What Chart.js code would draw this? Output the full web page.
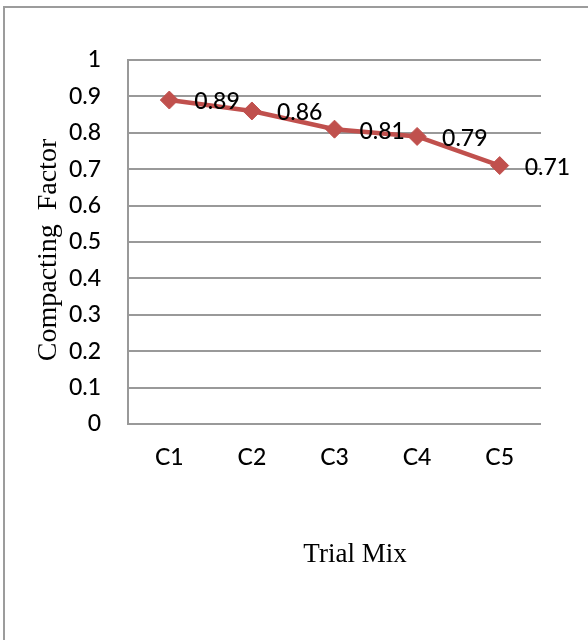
<!DOCTYPE html>
<html>
<head>
<meta charset="utf-8">
<script src="https://cdn.jsdelivr.net/npm/chart.js@4"></script>
<style>
  html, body { margin: 0; padding: 0; background: #fff; }
  #wrap { position: relative; width: 588px; height: 640px; overflow: hidden; }
  #frame { position: absolute; left: 3px; top: 6px; right: -10px; bottom: -10px;
           border-top: 2px solid #9c9c9c; border-left: 2px solid #9c9c9c; pointer-events: none; }
  canvas { position: absolute; left: 0; top: 0; }
</style>
</head>
<body>
<div id="wrap">
  <canvas id="chart" width="588" height="640"></canvas>
  <div id="frame"></div>
</div>
<script>
// Trial mixes and their measured compacting factor
const categories = ['C1', 'C2', 'C3', 'C4', 'C5'];
const compactingFactor = [0.89, 0.86, 0.81, 0.79, 0.71];
const yTitle = 'Compacting  Factor';
const xTitle = 'Trial Mix';

const RED = '#C0504D';
const GRID = '#999999';
const SANS = 'Lato, "Open Sans", sans-serif';
const SERIF = '"Liberation Serif", "DejaVu Serif", serif';

// Value labels written to the right of each marker
const valueLabels = {
  id: 'valueLabels',
  afterDatasetsDraw(chart) {
    const ctx = chart.ctx;
    const meta = chart.getDatasetMeta(0);
    ctx.save();
    ctx.font = '500 23px ' + SANS;
    ctx.fillStyle = '#000';
    ctx.textAlign = 'left';
    ctx.textBaseline = 'middle';
    meta.data.forEach((pt, i) => {
      ctx.fillText(compactingFactor[i].toFixed(2), pt.x + 25, pt.y + 2);
    });
    ctx.restore();
  }
};

// Axis titles in a serif face
const axisTitles = {
  id: 'axisTitles',
  afterDraw(chart) {
    const ctx = chart.ctx;
    ctx.save();
    ctx.fillStyle = '#000';
    ctx.font = '27px ' + SERIF;
    ctx.textAlign = 'center';
    ctx.textBaseline = 'alphabetic';
    ctx.fillText(xTitle, 355, 562);
    ctx.font = '28px ' + SERIF;
    ctx.translate(56, 250);
    ctx.rotate(-Math.PI / 2);
    ctx.fillText(yTitle, 0, 0);
    ctx.restore();
  }
};

new Chart(document.getElementById('chart'), {
  type: 'line',
  data: {
    labels: categories,
    datasets: [{
      data: compactingFactor,
      borderColor: RED,
      backgroundColor: RED,
      borderWidth: 4.5,
      tension: 0,
      pointStyle: 'rectRot',
      pointRadius: 9,
      pointBackgroundColor: RED,
      pointBorderColor: RED,
      pointBorderWidth: 1,
      clip: false
    }]
  },
  options: {
    responsive: false,
    animation: false,
    devicePixelRatio: 1,
    layout: { padding: { left: 0, top: 60, right: 47, bottom: 0 } },
    plugins: { legend: { display: false }, tooltip: { enabled: false } },
    scales: {
      x: {
        offset: true,
        grid: { display: false, drawTicks: false },
        border: { display: false },
        ticks: { color: '#000', font: { family: SANS, size: 23, weight: 500 }, padding: 20, maxRotation: 0 },
        afterFit(scale) { scale.height = 216; }
      },
      y: {
        min: 0,
        max: 1,
        ticks: {
          stepSize: 0.1,
          color: '#000',
          font: { family: SANS, size: 23, weight: 500 },
          padding: 27,
          callback: v => String(Number(v.toFixed(1)))
        },
        grid: { color: GRID, lineWidth: 2, drawTicks: false },
        border: { display: true, color: GRID, width: 2 },
        afterFit(scale) { scale.width = 128; }
      }
    }
  },
  plugins: [valueLabels, axisTitles]
});
</script>
</body>
</html>
